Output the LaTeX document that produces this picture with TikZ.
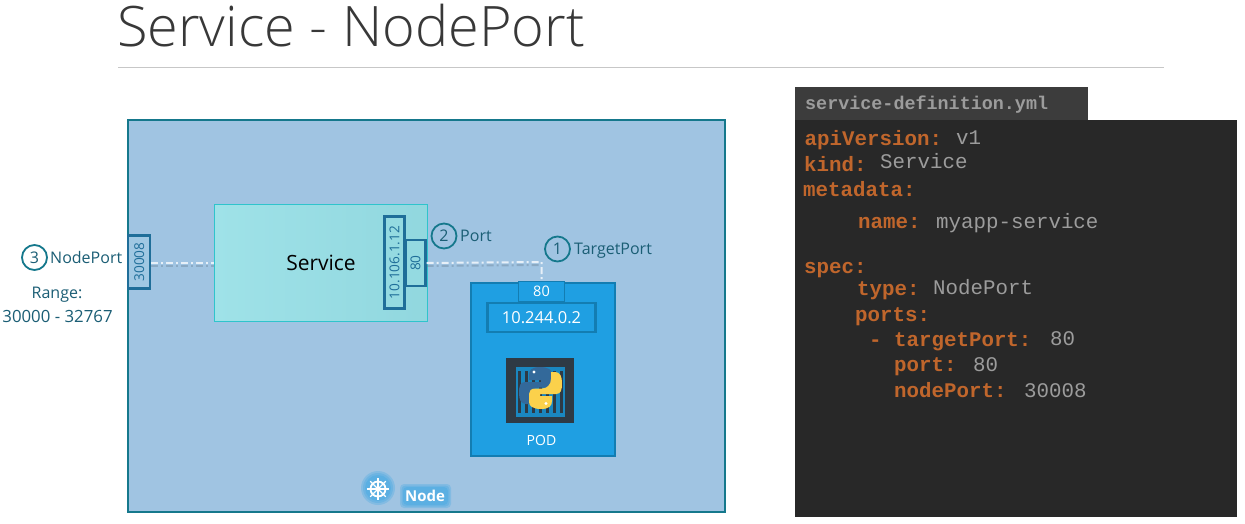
\documentclass[tikz,border=0pt]{standalone}
\usepackage{fontspec}
\setmainfont{Open Sans}
\newfontfamily\codefont{Liberation Mono}
\newfontfamily\titlefont{Open Sans Light}
\usetikzlibrary{positioning}
\definecolor{teal1}{HTML}{15788C}
\definecolor{nodeblue}{HTML}{A0C4E2}
\definecolor{svcfill}{HTML}{9FE2E8}
\definecolor{svcline}{HTML}{2FC4CC}
\definecolor{portline}{HTML}{1F6E99}
\definecolor{podfill}{HTML}{1F9FE2}
\definecolor{podline}{HTML}{137DB2}
\definecolor{labeltext}{HTML}{1B5E75}
\definecolor{codebg}{HTML}{282828}
\definecolor{codetab}{HTML}{3C3C3C}
\definecolor{codekey}{HTML}{C0662C}
\definecolor{codeval}{HTML}{9C9C9C}
\definecolor{iconbg}{HTML}{2E3A45}
\definecolor{pyblue}{HTML}{33699A}
\definecolor{pyyellow}{HTML}{FBD14B}
\newcommand{\pysnake}{(540,367) .. controls (532,367) and (529,370) .. (529,375) -- (529,380) -- (541,380) -- (541,382) -- (525,382) .. controls (520,382) and (519,386) .. (519,393) .. controls (519,400) and (521,404) .. (526,404) -- (530,404) -- (530,397) .. controls (530,391.5) and (534,387.5) .. (539,387.5) -- (546,387.5) .. controls (550,387.5) and (552,385) .. (552,382) -- (552,374) .. controls (552,370) and (548,367) .. (540,367) -- cycle}
\tikzset{
  lbl/.style={inner sep=0pt,text=labeltext,font=\fontsize{16}{18}\selectfont},
  numcirc/.style={circle,draw=teal1,line width=1.8pt,minimum size=25pt,inner sep=0pt,text=labeltext,font=\fontsize{16}{18}\selectfont},
  portbox/.style={draw=portline,line width=2.3pt,fill=nodeblue!88!svcfill,inner sep=0pt,text=portline,rotate=90,font=\fontsize{13.6}{16}\selectfont},
  flow/.style={draw=white!75!nodeblue,line width=2pt,dash pattern=on 7pt off 3pt on 2pt off 3pt},
  flowshadow/.style={draw=black!45!nodeblue,opacity=.3,line width=2pt,dash pattern=on 7pt off 3pt on 2pt off 3pt},
  key/.style={anchor=base west,inner sep=0pt,text=codekey,font=\codefont\bfseries\fontsize{20.8}{22}\selectfont},
  val/.style={anchor=base west,inner sep=0pt,text=codeval,font=\codefont\fontsize{20.8}{22}\selectfont},
  glow/.style={fill=podfill,opacity=.22},
}
\begin{document}
\begin{tikzpicture}[x=1pt,y=-1pt]
\useasboundingbox (0,0) rectangle (1245,523);
\fill[white] (0,0) rectangle (1245,523);
% title
\node[anchor=base west,inner sep=0pt,text=black!78,font=\titlefont\fontsize{55.8}{60}\selectfont] (title) at (117,46) {Service - NodePort};
\coordinate (ruleL) at (118,67); \coordinate (ruleR) at (1164,67);
\draw[black!22,line width=1pt] (ruleL) -- (ruleR);
% node area
\node[draw=teal1,line width=2pt,fill=nodeblue,minimum width=596.5pt,minimum height=391.5pt,inner sep=0pt,anchor=north west] (nodearea) at (127,119) {};
% service
\node[draw=svcline,line width=1.2pt,inner sep=0pt,minimum width=213pt,minimum height=117pt,anchor=north west,left color=svcfill,right color=svcfill!90!teal1] (service) at (214,203.5) {};
\node[inner sep=0pt,text=black,font=\fontsize{21}{24}\selectfont] (svclabel) at (321,263) {Service};
% ports
\node[portbox,minimum width=53pt,minimum height=22pt] (p30008) at (139.3,262) {30008};
\node[portbox,minimum width=92pt,minimum height=20pt,fill=svcfill!92!teal1] (pip) at (394.5,262.5) {10.106.1.12};
\node[portbox,minimum width=46pt,minimum height=20pt,fill=svcfill!92!teal1] (p80) at (415.5,263) {80};
% pod
\node[draw=podline,line width=2.2pt,fill=podfill,minimum width=144.5pt,minimum height=173pt,inner sep=0pt,anchor=north west] (pod) at (469.5,281.5) {};
\node[draw=podline,line width=.7pt,fill=podfill,minimum width=46pt,minimum height=20pt,inner sep=0pt,text=white,font=\fontsize{14.5}{16}\selectfont] (tp80) at (541.5,291.5) {80};
\node[draw=podline,line width=2.2pt,fill=podfill,minimum width=108pt,minimum height=29pt,inner sep=0pt,text=white,font=\fontsize{16.5}{18}\selectfont] (podip) at (541.5,317.5) {10.244.0.2};
\node[inner sep=0pt,text=white,font=\fontsize{14}{16}\selectfont] (podlabel) at (541.5,440) {POD};
% connectors
\coordinate (bend) at (541.5,262);
\draw[flowshadow] ([yshift=-3pt]p30008.south |- service.west) -- ([yshift=-3pt]service.west);
\draw[flowshadow] ([yshift=-3pt]p80.south) -- ([yshift=-3pt]bend);
\draw[flow] (p30008.south |- service.west) -- (service.west);
\draw[flow] (p80.south) -- (bend) -- (tp80.north);
% container icon
\node[fill=iconbg,minimum width=68pt,minimum height=65pt,inner sep=0pt,anchor=north west] (icon) at (506,357.5) {};
\fill[podfill!85!black] (515.5,367) rectangle (565,417);
\foreach \x in {519,526,533,540,547,554,561}{\fill[iconbg] (\x-1.5,371) rectangle (\x+1.5,412.5);}
% python logo
\fill[pyblue] \pysnake;
\begin{scope}[shift={(1081,776)},xscale=-1,yscale=-1]
\fill[pyyellow] \pysnake;
\end{scope}
\fill[white] (534,372) circle (1.6pt);
\fill[white] (546,403.5) circle (1.6pt);
% labels
\node[numcirc] (c3) at (34.5,257.5) {3};
\node[lbl,anchor=west] (tnp) at (50,257) {NodePort};
\node[lbl] (trange) at (57,294.5) {Range:};
\node[lbl,font=\fontsize{16.8}{18}\selectfont] (trangev) at (57.5,316.5) {30000 - 32767};
\node[numcirc] (c2) at (444,236) {2};
\node[lbl,anchor=west] (tport) at (460,236) {Port};
\node[numcirc] (c1) at (557.5,249) {1};
\node[lbl,anchor=west] (ttp) at (574,250.5) {TargetPort};
% node tag
\foreach \r in {17,15,13}{\fill[glow] (378,488) circle (\r pt);}
\foreach \d in {3,1.5,0}{\fill[glow,rounded corners=4pt] (403-\d,487-\d) rectangle (448+\d,505+\d);}
\node[circle,draw=white,line width=1.8pt,minimum size=15pt,inner sep=0pt] (wheel) at (378,489) {};
\foreach \a in {0,45,...,315}{\draw[white,line width=1.2pt] (wheel.center) -- ++(\a:11pt);}
\node[inner sep=0pt,text=white,font=\bfseries\fontsize{15}{16}\selectfont] (tnode) at (425,496) {Node};
% code panel
\node[fill=codebg,minimum width=442pt,minimum height=397pt,inner sep=0pt,anchor=north west] (panel) at (795,120) {};
\node[fill=codetab,minimum width=293pt,minimum height=33pt,inner sep=0pt,anchor=north west] (tab) at (795,87) {};
\node[anchor=base west,inner sep=0pt,text=codeval,font=\codefont\bfseries\fontsize{18.4}{20}\selectfont] (fname) at (805,109) {service-definition.yml};
\node[key] (k1) at (804.5,145) {apiVersion:};
\node[val] (v1) at (956,144) {v1};
\node[key] (k2) at (804,171) {kind:};
\node[val] (v2) at (880,168) {Service};
\node[key] (k3) at (803,196) {metadata:};
\node[key] (k4) at (858,228) {name:};
\node[val] (v4) at (936,228) {myapp-service};
\node[key] (k5) at (804,273) {spec:};
\node[key] (k6) at (857,295) {type:};
\node[val] (v6) at (933,294) {NodePort};
\node[key] (k7) at (855,321) {ports:};
\node[key] (k8) at (869,346) {- targetPort:};
\node[val] (v8) at (1050,345) {80};
\node[key] (k9) at (894,371) {port:};
\node[val] (v9) at (973,371) {80};
\node[key] (k10) at (894,397) {nodePort:};
\node[val] (v10) at (1024,397) {30008};
\end{tikzpicture}
\end{document}
